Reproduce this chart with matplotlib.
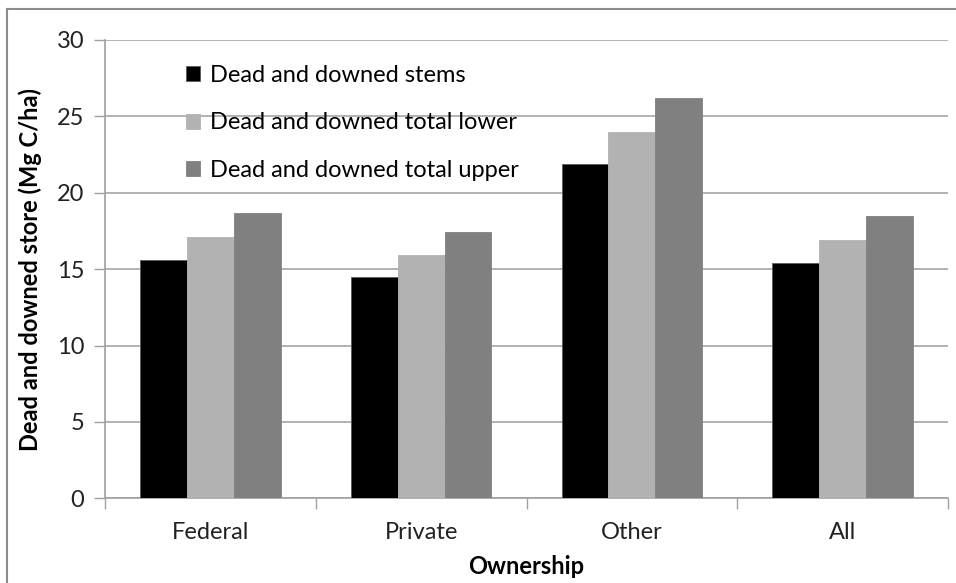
import matplotlib
matplotlib.use("Agg")
import matplotlib.pyplot as plt
from matplotlib.lines import Line2D
import numpy as np

categories = ["Federal", "Private", "Other", "All"]
series_names = ["Dead and downed stems", "Dead and downed total lower", "Dead and downed total upper"]
stems = [15.6, 14.5, 21.9, 15.4]
total_lower = [17.1, 15.9, 24.0, 16.9]
total_upper = [18.7, 17.4, 26.2, 18.5]
y_ticks = [0, 5, 10, 15, 20, 25, 30]

colors = ["#000000", "#b2b2b2", "#808080"]
plt.rcParams['font.family'] = ['Lato', 'DejaVu Sans']
FS = 17

fig = plt.figure(figsize=(9.56, 5.83), dpi=100)
ax = fig.add_axes([105/956, 1-498.3/583, (948-105)/956, (498.3-40)/583])

x = np.arange(len(categories))
w = 1/4.5
for j, (vals, name, c) in enumerate(zip([stems, total_lower, total_upper], series_names, colors)):
    ax.bar(x + (j-1)*w, vals, width=w, color=c, label=name,
           edgecolor="#5a5a5a" if j == 0 else c, linewidth=0.6, zorder=3)

ax.set_xlim(-0.5, len(categories)-0.5)
ax.set_ylim(0, 30)
ax.set_yticks(y_ticks)
ax.set_yticklabels([str(v) for v in y_ticks], fontsize=FS, color="#222222")
ax.set_xticks(x)
ax.set_xticklabels(categories, fontsize=FS, color="#222222")
ax.set_xticks(np.arange(-0.5, len(categories), 1), minor=True)
ax.tick_params(axis='x', which='major', length=0, pad=17)
ax.tick_params(axis='x', which='minor', length=8, color="#a0a0a0", width=1)
ax.tick_params(axis='y', which='major', length=8, color="#a0a0a0", width=1, pad=7)

ax.grid(axis='y', color="#a6a6a6", linewidth=1.2, zorder=0)
ax.set_axisbelow(True)
for s in ["top", "right"]:
    ax.spines[s].set_visible(False)
for s in ["left", "bottom"]:
    ax.spines[s].set_color("#a0a0a0")
    ax.spines[s].set_linewidth(1.2)

ax.set_ylabel("Dead and downed store (Mg C/ha)", fontsize=FS, fontweight='bold')
ax.yaxis.set_label_coords(-(105-42)/843, 0.5)
ax.set_xlabel("Ownership", fontsize=FS, fontweight='bold')
ax.xaxis.set_label_coords(0.5, -(555-498.3)/458.3)

leg = ax.legend(loc='upper left', bbox_to_anchor=(186/956, 1-65/583), bbox_transform=fig.transFigure,
                frameon=False, fontsize=FS, handlelength=0.6, handleheight=0.6,
                handletextpad=0.4, labelspacing=1.12, borderaxespad=0, borderpad=0)

# outer chart border (top and left)
fig.add_artist(Line2D([7/956, 1], [1-9/583, 1-9/583], color="#8c8c8c", linewidth=1.5, transform=fig.transFigure))
fig.add_artist(Line2D([7/956, 7/956], [0, 1-9/583], color="#8c8c8c", linewidth=1.5, transform=fig.transFigure))

fig.savefig("out.png", dpi=100)
